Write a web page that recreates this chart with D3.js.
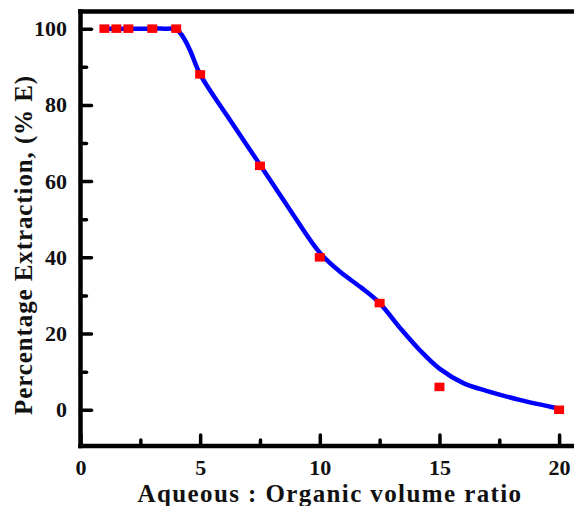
<!DOCTYPE html>
<html>
<head>
<meta charset="utf-8">
<script src="https://cdn.jsdelivr.net/npm/d3@7"></script>
<style>
  body { margin: 0; background: #fff; }
  svg text { font-family: "Liberation Serif", "Times New Roman", serif; font-weight: bold; fill: #111; }
</style>
</head>
<body>
<div id="chart"></div>
<script>
// measured points
var ratio = [1, 1.5, 2, 3, 4, 5, 7.5, 10, 12.5, 15, 20];
var extraction = [100, 100, 100, 100, 100, 88, 64, 40, 28, 6, 0];

// fitted curve
var fitX = [1, 2, 3, 3.5, 4, 4.2, 4.4, 4.6, 5, 6.1, 7.5, 8.75, 10, 10.85, 11.7, 12.5, 13.35, 14.2, 15, 16, 17, 18.35, 20];
var fitY = [100, 100, 100, 100, 99.8, 98.6, 96.6, 94, 88, 77.4, 64.3, 52.5, 41.2, 36.2, 32.2, 28, 21.5, 15.5, 10.8, 7, 4.9, 2.6, 0.3];

var xMajor = [0, 5, 10, 15, 20];
var xMinor = [2.5, 7.5, 12.5, 17.5];
var yMajor = [0, 20, 40, 60, 80, 100];
var yMinor = [10, 30, 50, 70, 90];

var width = 574, height = 506;
var plotLeft = 80.5, plotBottom = 446, plotTop = 11.5;
var frameW = 4.5;

var svg = d3.select("#chart").append("svg")
  .attr("width", width)
  .attr("height", height);

var x = d3.scaleLinear().domain([0, 21]).range([plotLeft, plotLeft + 21 * 23.93]);
var y = d3.scaleLinear().domain([-9.5, 104.5]).range([plotBottom, plotTop]);

// x axis, ticks point inward
var gx = svg.append("g").attr("transform", `translate(0,${plotBottom})`)
  .call(d3.axisBottom(x).tickValues(xMajor).tickSize(-11).tickSizeOuter(0).tickPadding(13).tickFormat(d3.format("d")));
svg.append("g").attr("transform", `translate(0,${plotBottom})`)
  .call(d3.axisBottom(x).tickValues(xMinor).tickSize(-6).tickSizeOuter(0).tickFormat(""));

// y axis, ticks point inward too
var gy = svg.append("g").attr("transform", `translate(${plotLeft},0)`)
  .call(d3.axisLeft(y).tickValues(yMajor).tickSize(-11).tickSizeOuter(0).tickPadding(13.5));
svg.append("g").attr("transform", `translate(${plotLeft},0)`)
  .call(d3.axisLeft(y).tickValues(yMinor).tickSize(-6).tickSizeOuter(0).tickFormat(""));

svg.selectAll(".domain").remove();
svg.selectAll(".tick line").attr("stroke", "#000").attr("stroke-width", 3.5).attr("stroke-linecap", "round");
svg.selectAll(".tick text").attr("font-size", 22);

// frame drawn as solid bars: left, bottom, top (right side is cut off)
var frame = svg.append("g").attr("fill", "#000");
frame.append("rect")
  .attr("x", plotLeft - frameW / 2).attr("y", plotTop - frameW / 2)
  .attr("width", frameW).attr("height", plotBottom - plotTop + frameW);
frame.append("rect")
  .attr("x", plotLeft - frameW / 2).attr("y", plotBottom - frameW / 2)
  .attr("width", x(21) - plotLeft).attr("height", frameW);
frame.append("rect")
  .attr("x", plotLeft - frameW / 2).attr("y", plotTop - frameW / 2)
  .attr("width", x(21) - plotLeft).attr("height", frameW);

// fitted line
var fit = fitX.map((d, i) => ({ x: d, y: fitY[i] }));
var line = d3.line()
  .x(d => x(d.x))
  .y(d => y(d.y))
  .curve(d3.curveCatmullRom.alpha(0.5));

svg.append("path")
  .datum(fit)
  .attr("d", line)
  .attr("fill", "none")
  .attr("stroke", "#0000ff")
  .attr("stroke-width", 4.5)
  .attr("stroke-linecap", "round");

// markers
var pts = ratio.map((d, i) => ({ x: d, y: extraction[i] }));
var mw = 10, mh = 8.5;
svg.append("g").selectAll("rect")
  .data(pts).join("rect")
  .attr("x", d => x(d.x) - mw / 2)
  .attr("y", d => y(d.y) - mh / 2)
  .attr("width", mw)
  .attr("height", mh)
  .attr("fill", "#ff0000");

//axis titles
svg.append("text")
  .attr("x", 330).attr("y", 502)
  .attr("text-anchor", "middle")
  .attr("font-size", 25)
  .attr("letter-spacing", 1.4)
  .text("Aqueous : Organic volume ratio");

svg.append("text")
  .attr("transform", "translate(32,245) rotate(-90)")
  .attr("text-anchor", "middle")
  .attr("font-size", 25)
  .attr("letter-spacing", 0.9)
  .text("Percentage Extraction, (% E)");
</script>
</body>
</html>
